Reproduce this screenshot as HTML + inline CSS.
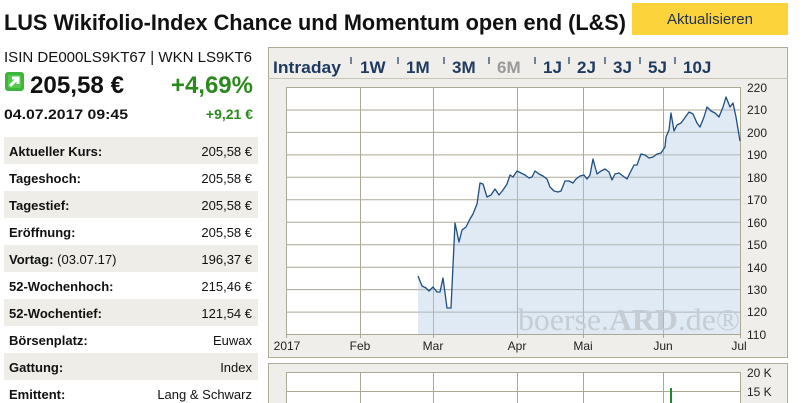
<!DOCTYPE html>
<html><head><meta charset="utf-8"><style>
html,body{margin:0;padding:0;background:#fff;width:804px;height:403px;overflow:hidden}
svg{display:block}
</style></head><body>
<svg width="804" height="403" viewBox="0 0 804 403" xmlns="http://www.w3.org/2000/svg" font-family="Liberation Sans, sans-serif">
<!-- title -->
<text x="4" y="30" font-size="22" font-weight="bold" fill="#111" textLength="622" lengthAdjust="spacingAndGlyphs">LUS Wikifolio-Index Chance und Momentum open end (L&amp;S)</text>
<rect x="632" y="3" width="156" height="32" fill="#fdd33c"/>
<text x="710" y="24" font-size="15" fill="#23334f" text-anchor="middle">Aktualisieren</text>
<text x="4" y="62" font-size="15" fill="#111" textLength="248" lengthAdjust="spacingAndGlyphs">ISIN DE000LS9KT67 | WKN LS9KT6</text>
<!-- icon -->
<rect x="5" y="72" width="19" height="19" rx="3" fill="#3db53a"/>
<rect x="8" y="75" width="13" height="13" rx="1" fill="#55c94e"/>
<path d="M10 86 L17 79 M12 78 L18 78 L18 84" stroke="#fff" stroke-width="3" fill="none"/>
<text x="30" y="93" font-size="24" font-weight="bold" fill="#111" textLength="94" lengthAdjust="spacingAndGlyphs">205,58 €</text>
<text x="253" y="93" font-size="24" font-weight="bold" fill="#2b8a1d" text-anchor="end">+4,69%</text>
<text x="4" y="119" font-size="14" font-weight="bold" fill="#111" textLength="124" lengthAdjust="spacingAndGlyphs">04.07.2017  09:45</text>
<text x="253" y="119" font-size="14" font-weight="bold" fill="#2b8a1d" text-anchor="end">+9,21 €</text>
<!-- table -->
<g font-size="13" fill="#111">
<rect x="4" y="137" width="254" height="27" fill="#eeede8"/>
<rect x="4" y="191" width="254" height="27" fill="#eeede8"/>
<rect x="4" y="245" width="254" height="27" fill="#eeede8"/>
<rect x="4" y="299" width="254" height="27" fill="#eeede8"/>
<rect x="4" y="353" width="254" height="27" fill="#eeede8"/>
<g font-weight="bold">
<text x="9" y="156">Aktueller Kurs:</text>
<text x="9" y="183">Tageshoch:</text>
<text x="9" y="210">Tagestief:</text>
<text x="9" y="237">Eröffnung:</text>
<text x="9" y="264">Vortag: <tspan font-weight="normal">(03.07.17)</tspan></text>
<text x="9" y="291">52-Wochenhoch:</text>
<text x="9" y="318">52-Wochentief:</text>
<text x="9" y="345">Börsenplatz:</text>
<text x="9" y="372">Gattung:</text>
<text x="9" y="399">Emittent:</text>
</g>
<g text-anchor="end">
<text x="252" y="156">205,58 €</text>
<text x="252" y="183">205,58 €</text>
<text x="252" y="210">205,58 €</text>
<text x="252" y="237">205,58 €</text>
<text x="252" y="264">196,37 €</text>
<text x="252" y="291">215,46 €</text>
<text x="252" y="318">121,54 €</text>
<text x="252" y="345">Euwax</text>
<text x="252" y="372">Index</text>
<text x="252" y="399">Lang &amp; Schwarz</text>
</g>
</g>
<!-- chart panel -->
<rect x="268.5" y="47.5" width="519" height="310" fill="#efeeea" stroke="#b0ab98"/>
<line x1="268" y1="78.5" x2="788" y2="78.5" stroke="#c8c4b4"/>
<g font-size="17" font-weight="bold" fill="#1f3a5f">
<text x="273" y="73" textLength="68" lengthAdjust="spacingAndGlyphs">Intraday</text>
<text x="360" y="73">1W</text>
<text x="406" y="73">1M</text>
<text x="452" y="73">3M</text>
<text x="497" y="73" fill="#9a9a9a">6M</text>
<text x="543" y="73">1J</text>
<text x="577" y="73">2J</text>
<text x="613" y="73">3J</text>
<text x="648" y="73">5J</text>
<text x="683" y="73">10J</text>
</g>
<g stroke="#1f3a5f" stroke-width="1.2">
<line x1="351" y1="57" x2="351" y2="64"/><line x1="398" y1="57" x2="398" y2="64"/><line x1="444" y1="57" x2="444" y2="64"/><line x1="489" y1="57" x2="489" y2="64"/><line x1="535" y1="57" x2="535" y2="64"/><line x1="569" y1="57" x2="569" y2="64"/><line x1="605" y1="57" x2="605" y2="64"/><line x1="640" y1="57" x2="640" y2="64"/><line x1="675" y1="57" x2="675" y2="64"/>
</g>
<rect x="286" y="87" width="455" height="247" fill="#fff"/>
<g stroke="#aca893" stroke-width="1">
<line x1="286" y1="87.5" x2="741" y2="87.5"/><line x1="286" y1="110" x2="741" y2="110"/><line x1="286" y1="132.4" x2="741" y2="132.4"/><line x1="286" y1="154.9" x2="741" y2="154.9"/><line x1="286" y1="177.3" x2="741" y2="177.3"/><line x1="286" y1="199.8" x2="741" y2="199.8"/><line x1="286" y1="222.3" x2="741" y2="222.3"/><line x1="286" y1="244.7" x2="741" y2="244.7"/><line x1="286" y1="267.2" x2="741" y2="267.2"/><line x1="286" y1="289.6" x2="741" y2="289.6"/><line x1="286" y1="312.1" x2="741" y2="312.1"/><line x1="286" y1="334.5" x2="741" y2="334.5"/>
<line x1="286.5" y1="87" x2="286.5" y2="338"/><line x1="360.5" y1="87" x2="360.5" y2="338"/><line x1="433.5" y1="87" x2="433.5" y2="338"/><line x1="517.5" y1="87" x2="517.5" y2="338"/><line x1="583.5" y1="87" x2="583.5" y2="338"/><line x1="663.5" y1="87" x2="663.5" y2="338"/><line x1="740.5" y1="87" x2="740.5" y2="338"/>
</g>
<path fill="rgba(175,202,230,0.4)" d="M418,334 L418,276 L422,286 L426,288 L429,291 L433,287 L437,292 L440,292 L443,278 L447,308 L451,308 L455,223 L459,242 L462,230 L466,227 L470,219 L473,214 L477,204 L480,183 L483,184 L487,197 L491,195 L495,189 L499,195 L503,190 L507,184 L510,175 L513,177 L517,171 L521,173 L525,175 L529,178 L532,177 L535,171 L539,174 L543,176 L547,179 L550,187 L554,191 L558,192 L561,191 L565,181 L569,181 L573,183 L576,179 L580,176 L584,175 L587,179 L590,175 L593,159 L597,174 L601,171 L605,169 L609,172 L612,180 L615,174 L619,173 L623,176 L627,179 L631,171 L634,165 L637,165 L641,154 L645,155 L649,158 L653,157 L657,154 L661,153 L665,147 L666,137 L669,130 L671,113 L674,131 L677,125 L681,123 L684,119 L689,112 L693,114 L697,123 L700,127 L704,117 L707,107 L711,111 L715,113 L719,117 L723,107 L726,97 L730,107 L733,103 L736,117 L740,141 L740,334 Z"/>
<text x="518" y="330" font-family="Liberation Serif, serif" font-size="31" fill="#c5ccd3" textLength="222" lengthAdjust="spacingAndGlyphs">boerse.<tspan font-weight="bold">ARD</tspan>.de®</text>
<path fill="none" stroke="#1f4e83" stroke-width="1.3" stroke-linejoin="round" d="M418,276 L422,286 L426,288 L429,291 L433,287 L437,292 L440,292 L443,278 L447,308 L451,308 L455,223 L459,242 L462,230 L466,227 L470,219 L473,214 L477,204 L480,183 L483,184 L487,197 L491,195 L495,189 L499,195 L503,190 L507,184 L510,175 L513,177 L517,171 L521,173 L525,175 L529,178 L532,177 L535,171 L539,174 L543,176 L547,179 L550,187 L554,191 L558,192 L561,191 L565,181 L569,181 L573,183 L576,179 L580,176 L584,175 L587,179 L590,175 L593,159 L597,174 L601,171 L605,169 L609,172 L612,180 L615,174 L619,173 L623,176 L627,179 L631,171 L634,165 L637,165 L641,154 L645,155 L649,158 L653,157 L657,154 L661,153 L665,147 L666,137 L669,130 L671,113 L674,131 L677,125 L681,123 L684,119 L689,112 L693,114 L697,123 L700,127 L704,117 L707,107 L711,111 L715,113 L719,117 L723,107 L726,97 L730,107 L733,103 L736,117 L740,141"/>
<g font-size="12" fill="#222">
<text x="287" y="350" text-anchor="middle">2017</text>
<text x="360" y="350" text-anchor="middle">Feb</text>
<text x="433" y="350" text-anchor="middle">Mar</text>
<text x="517" y="350" text-anchor="middle">Apr</text>
<text x="583" y="350" text-anchor="middle">Mai</text>
<text x="663" y="350" text-anchor="middle">Jun</text>
<text x="739" y="350" text-anchor="middle">Jul</text>
<text x="747" y="92">220</text><text x="747" y="114">210</text><text x="747" y="137">200</text><text x="747" y="159">190</text><text x="747" y="182">180</text><text x="747" y="204">170</text><text x="747" y="227">160</text><text x="747" y="249">150</text><text x="747" y="272">140</text><text x="747" y="294">130</text><text x="747" y="316">120</text><text x="747" y="339">110</text>
</g>
<!-- volume panel -->
<rect x="268.5" y="363.5" width="519" height="45" fill="#efeeea" stroke="#b0ab98"/>
<rect x="286" y="372" width="455" height="40" fill="#fff"/>
<g stroke="#aca893">
<line x1="286" y1="372.5" x2="741" y2="372.5"/><line x1="286" y1="391.5" x2="741" y2="391.5"/>
<line x1="286.5" y1="372" x2="286.5" y2="403"/><line x1="360.5" y1="372" x2="360.5" y2="403"/><line x1="433.5" y1="372" x2="433.5" y2="403"/><line x1="517.5" y1="372" x2="517.5" y2="403"/><line x1="583.5" y1="372" x2="583.5" y2="403"/><line x1="663.5" y1="372" x2="663.5" y2="403"/><line x1="740.5" y1="372" x2="740.5" y2="403"/>
</g>
<rect x="670" y="388" width="2" height="15" fill="#1a8a2a"/>
<g font-size="12" fill="#222"><text x="747" y="377">20 K</text><text x="747" y="396">15 K</text></g>
</svg>
</body></html>
